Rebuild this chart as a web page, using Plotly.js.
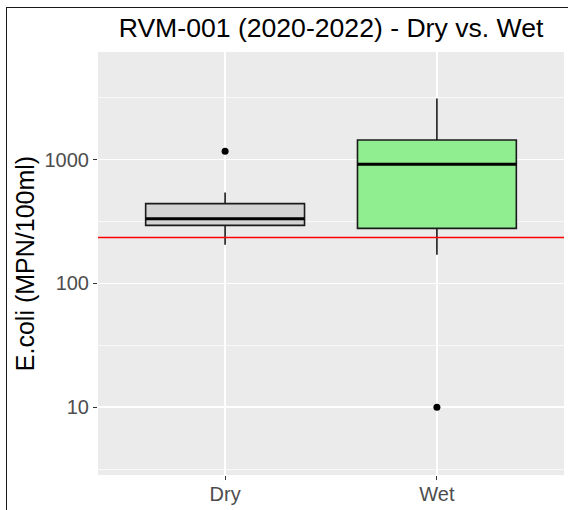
<!DOCTYPE html>
<html>
<head>
<meta charset="utf-8">
<script src="https://cdn.plot.ly/plotly-3.0.1.min.js"></script>
<style>
  html, body { margin: 0; padding: 0; background: #ffffff; }
  #wrap { position: relative; width: 568px; height: 510px; }
  #chart { position: absolute; left: 0; top: 0; width: 568px; height: 510px; }
  #frame { position: absolute; left: 6px; top: 7px; right: -4px; bottom: -4px;
           border-left: 1.5px solid #1a1a1a; border-top: 1.5px solid #1a1a1a;
           pointer-events: none; }
</style>
</head>
<body>
<div id="wrap">
  <div id="chart"></div>
  <div id="frame"></div>
</div>
<script>
// ---- data ----
const categories = ['Dry', 'Wet'];
const boxFill = ['#D3D3D3', '#90EE90'];
const lowerWhisker = [205, 170];
const q1Values = [294, 278];
const medianValues = [333, 916];
const q3Values = [441, 1441];
const upperWhisker = [541, 3118];
const outlierCategory = ['Dry', 'Wet'];
const outlierValues = [1167, 10];
const thresholdValue = 235;
const yTickVals = [10, 100, 1000];
const yTickText = ['10', '100', '1000'];
const yMinorVals = [3.162, 31.62, 316.2, 3162];

const traces = [];
categories.forEach(function (cat, i) {
  traces.push({
    type: 'box',
    x: [cat],
    q1: [q1Values[i]],
    median: [medianValues[i]],
    q3: [q3Values[i]],
    lowerfence: [lowerWhisker[i]],
    upperfence: [upperWhisker[i]],
    fillcolor: boxFill[i],
    line: { color: '#1a1a1a', width: 1.6 },
    width: 0.75,
    whiskerwidth: 0,
    boxpoints: false,
    hoverinfo: 'skip',
    showlegend: false
  });
});
// thicker median bars drawn on top
categories.forEach(function (cat, i) {
  const m = medianValues[i];
  traces.push({
    type: 'box',
    x: [cat],
    q1: [m], median: [m], q3: [m], lowerfence: [m], upperfence: [m],
    fillcolor: 'rgba(0,0,0,0)',
    line: { color: '#000000', width: 3 },
    width: 0.75,
    whiskerwidth: 0,
    boxpoints: false,
    hoverinfo: 'skip',
    showlegend: false
  });
});
traces.push({
  type: 'scatter',
  mode: 'markers',
  x: outlierCategory,
  y: outlierValues,
  marker: { color: '#000000', size: 7 },
  hoverinfo: 'skip',
  showlegend: false
});

const layout = {
  width: 568,
  height: 510,
  margin: { l: 98, r: 4, t: 52, b: 35, pad: 0 },
  paper_bgcolor: '#ffffff',
  plot_bgcolor: '#EBEBEB',
  boxmode: 'overlay',
  font: { family: '"Liberation Sans", Arial, sans-serif', color: '#000000' },
  title: {
    text: 'RVM-001 (2020-2022) - Dry vs. Wet',
    font: { size: 26.6, color: '#000000' },
    xref: 'paper', x: 0.5, xanchor: 'center',
    yref: 'container', y: 0.946, yanchor: 'middle'
  },
  xaxis: {
    type: 'category',
    range: [-0.6, 1.6],
    showgrid: true, gridcolor: '#ffffff', gridwidth: 1.4,
    zeroline: false, showline: false,
    ticks: 'outside', ticklen: 4, tickwidth: 1.1, tickcolor: '#333333',
    tickfont: { size: 20, color: '#4D4D4D' },
    ticklabelstandoff: -3,
    fixedrange: true
  },
  yaxis: {
    type: 'log',
    range: [0.452, 3.869],
    tickmode: 'array',
    tickvals: yTickVals,
    ticktext: yTickText,
    showgrid: true, gridcolor: '#ffffff', gridwidth: 1.4,
    minor: { tickmode: 'array', tickvals: yMinorVals, showgrid: true, gridcolor: '#ffffff', gridwidth: 0.7, ticks: '' },
    zeroline: false, showline: false,
    ticks: 'outside', ticklen: 4, tickwidth: 1.1, tickcolor: '#333333',
    tickfont: { size: 20, color: '#4D4D4D' },
    title: { text: 'E.coli (MPN/100ml)', font: { size: 25, color: '#000000' }, standoff: 2 },
    fixedrange: true
  },
  shapes: [{
    type: 'line', xref: 'paper', x0: 0, x1: 1,
    yref: 'y', y0: thresholdValue, y1: thresholdValue,
    line: { color: '#FF0000', width: 1.6 }, layer: 'above'
  }]
};

Plotly.newPlot('chart', traces, layout, { displayModeBar: false, staticPlot: true });
</script>
</body>
</html>
